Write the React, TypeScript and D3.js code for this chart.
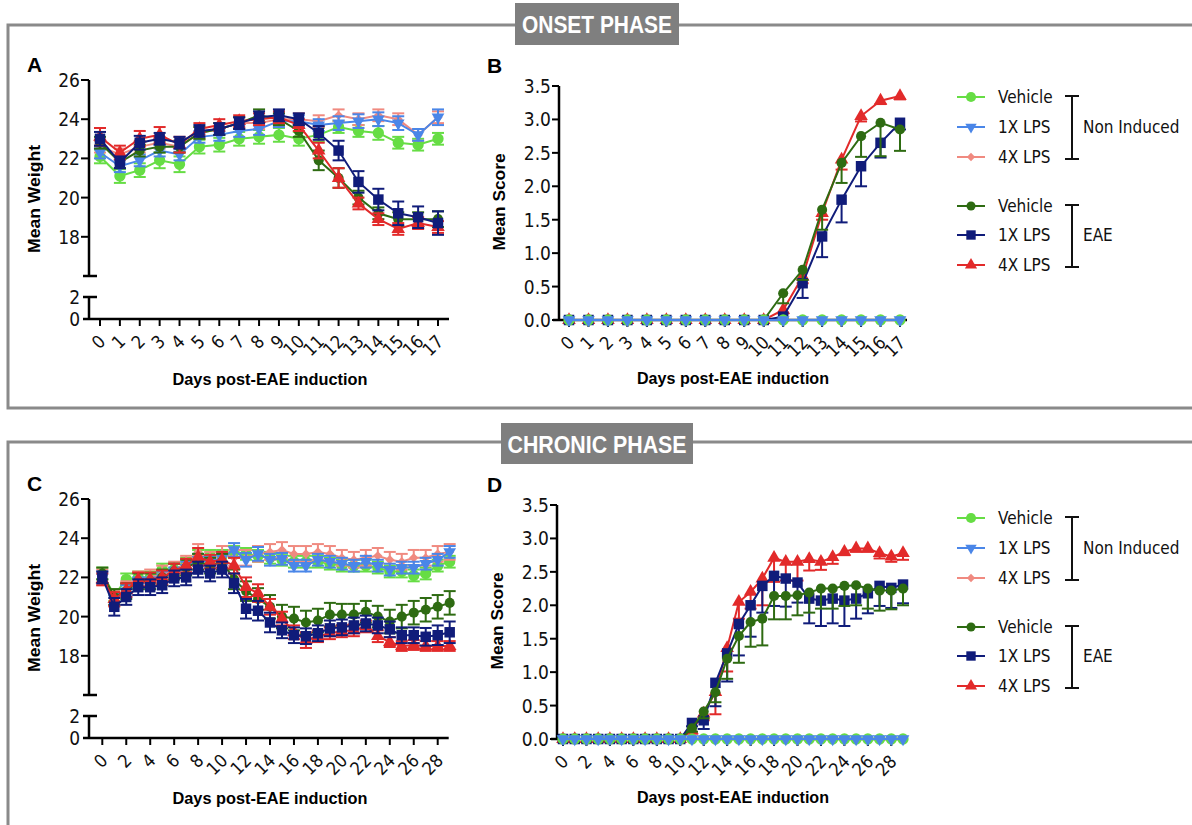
import React from "react";
import * as d3 from "d3";

// ---------- DATA ----------
const onsetDays = [0, 1, 2, 3, 4, 5, 6, 7, 8, 9, 10, 11, 12, 13, 14, 15, 16, 17];
const chronicDays = [0, 1, 2, 3, 4, 5, 6, 7, 8, 9, 10, 11, 12, 13, 14, 15, 16, 17, 18, 19, 20, 21, 22, 23, 24, 25, 26, 27, 28, 29];
const onsetTickLabels = [0, 1, 2, 3, 4, 5, 6, 7, 8, 9, 10, 11, 12, 13, 14, 15, 16, 17];
const chronicTickLabels = [0, 2, 4, 6, 8, 10, 12, 14, 16, 18, 20, 22, 24, 26, 28];
const weightTicks = [18, 20, 22, 24, 26];
const weightBreakTicks = [0, 2];
const scoreTicks = [0, 0.5, 1, 1.5, 2, 2.5, 3, 3.5];
const groupLabels = ["Vehicle", "1X LPS", "4X LPS"];
const cohortLabels = ["Non Induced", "EAE"];
const phaseTitles = ["ONSET PHASE", "CHRONIC PHASE"];
const panelLetters = ["A", "B", "C", "D"];

// Panel A: onset weight
const onsetNIVehW = [22.1, 21.1, 21.4, 21.9, 21.7, 22.6, 22.7, 23.0, 23.1, 23.2, 23.0, 23.2, 23.6, 23.4, 23.3, 22.8, 22.7, 23.0];
const onsetNIVehWErr = [0.35, 0.35, 0.35, 0.4, 0.4, 0.35, 0.35, 0.35, 0.35, 0.35, 0.35, 0.35, 0.3, 0.3, 0.35, 0.3, 0.3, 0.3];
const onsetNI1xW = [22.3, 21.6, 21.9, 22.4, 22.2, 23.1, 23.2, 23.4, 23.5, 23.9, 23.9, 23.7, 23.8, 23.9, 24.0, 23.8, 23.2, 24.1];
const onsetNI1xWErr = [0.3, 0.3, 0.3, 0.3, 0.3, 0.3, 0.3, 0.3, 0.3, 0.3, 0.3, 0.3, 0.35, 0.35, 0.35, 0.35, 0.3, 0.4];
const onsetNI4xW = [22.6, 22.2, 22.6, 22.8, 22.6, 23.3, 23.5, 23.8, 23.8, 24.0, 24.0, 23.9, 24.2, 24.0, 24.2, 24.0, 23.2, 24.1];
const onsetNI4xWErr = [0.3, 0.3, 0.3, 0.3, 0.3, 0.3, 0.3, 0.3, 0.3, 0.3, 0.3, 0.3, 0.3, 0.3, 0.3, 0.3, 0.3, 0.3];
const onsetEAEVehW = [22.8, 21.8, 22.4, 22.6, 22.6, 23.3, 23.5, 23.8, 24.2, 24.0, 23.4, 21.9, 21.0, 20.0, 19.2, 18.9, 18.9, 18.9];
const onsetEAEVehWErr = [0.3, 0.3, 0.3, 0.3, 0.3, 0.3, 0.3, 0.3, 0.3, 0.3, 0.3, 0.5, 0.5, 0.35, 0.3, 0.35, 0.35, 0.4];
const onsetEAE1xW = [23.0, 21.8, 22.8, 23.0, 22.8, 23.4, 23.5, 23.8, 24.1, 24.2, 24.0, 23.3, 22.4, 20.8, 19.9, 19.2, 19.0, 18.7];
const onsetEAE1xWErr = [0.35, 0.3, 0.35, 0.3, 0.3, 0.3, 0.3, 0.3, 0.3, 0.3, 0.3, 0.35, 0.5, 0.55, 0.55, 0.6, 0.55, 0.6];
const onsetEAE4xW = [23.1, 22.3, 23.0, 23.2, 22.7, 23.5, 23.7, 23.9, 24.0, 24.1, 23.7, 22.4, 21.0, 19.7, 18.9, 18.4, 18.7, 18.5];
const onsetEAE4xWErr = [0.45, 0.35, 0.4, 0.4, 0.4, 0.3, 0.3, 0.3, 0.3, 0.3, 0.3, 0.4, 0.5, 0.3, 0.3, 0.3, 0.3, 0.3];

// Panel B: onset score
const onsetNIVehS = [0, 0, 0, 0, 0, 0, 0, 0, 0, 0, 0, 0, 0, 0, 0, 0, 0, 0];
const onsetNI1xS = [0, 0, 0, 0, 0, 0, 0, 0, 0, 0, 0, 0, 0, 0, 0, 0, 0, 0];
const onsetNI4xS = [0, 0, 0, 0, 0, 0, 0, 0, 0, 0, 0, 0, 0, 0, 0, 0, 0, 0];
const onsetNISErr = [0, 0, 0, 0, 0, 0, 0, 0, 0, 0, 0, 0, 0, 0, 0, 0, 0, 0];
const onsetEAEVehS = [0, 0, 0, 0, 0, 0, 0, 0, 0, 0, 0, 0.4, 0.75, 1.65, 2.35, 2.75, 2.95, 2.85];
const onsetEAEVehSErr = [0, 0, 0, 0, 0, 0, 0, 0, 0, 0, 0, 0.15, 0.15, 0.3, 0.3, 0.31, 0.5, 0.32];
const onsetEAE1xS = [0, 0, 0, 0, 0, 0, 0, 0, 0, 0, 0, 0.05, 0.55, 1.25, 1.8, 2.3, 2.65, 2.95];
const onsetEAE1xSErr = [0, 0, 0, 0, 0, 0, 0, 0, 0, 0, 0, 0.05, 0.22, 0.31, 0.34, 0.3, 0.22, 0.1];
const onsetEAE4xS = [0, 0, 0, 0, 0, 0, 0, 0, 0, 0, 0, 0.15, 0.65, 1.6, 2.4, 3.05, 3.28, 3.35];
const onsetEAE4xSErr = [0, 0, 0, 0, 0, 0, 0, 0, 0, 0, 0, 0.05, 0.1, 0.1, 0.15, 0.08, 0.05, 0.05];

// Panel C: chronic weight
const chronicNIVehW = [22.2, 21.1, 21.9, 22.0, 22.0, 22.4, 22.4, 22.7, 23.1, 23.1, 23.1, 23.3, 23.2, 23.1, 23.0, 22.9, 22.8, 22.8, 22.8, 22.7, 22.6, 22.6, 22.6, 22.5, 22.3, 22.3, 22.1, 22.2, 22.6, 22.8];
const chronicNIVehWErr = [0.3, 0.3, 0.3, 0.3, 0.3, 0.3, 0.3, 0.3, 0.3, 0.3, 0.3, 0.3, 0.3, 0.3, 0.3, 0.3, 0.3, 0.3, 0.3, 0.3, 0.3, 0.3, 0.3, 0.3, 0.3, 0.3, 0.3, 0.3, 0.3, 0.3];
const chronicNI1xW = [22.0, 20.9, 21.3, 21.7, 21.7, 22.0, 22.2, 22.5, 22.9, 22.8, 23.0, 23.4, 22.9, 23.2, 22.9, 22.95, 22.6, 22.6, 22.9, 22.8, 22.7, 22.6, 22.8, 22.6, 22.4, 22.5, 22.5, 22.7, 22.9, 23.3];
const chronicNI1xWErr = [0.3, 0.3, 0.3, 0.3, 0.3, 0.3, 0.3, 0.3, 0.3, 0.3, 0.3, 0.35, 0.35, 0.35, 0.3, 0.3, 0.3, 0.3, 0.3, 0.3, 0.3, 0.3, 0.3, 0.3, 0.3, 0.3, 0.3, 0.3, 0.3, 0.3];
const chronicNI4xW = [22.0, 20.9, 21.4, 21.9, 22.0, 22.2, 22.4, 22.7, 23.3, 22.9, 23.2, 23.0, 23.0, 23.2, 23.3, 23.4, 23.2, 23.2, 23.3, 23.2, 23.0, 22.9, 23.0, 23.1, 22.9, 22.8, 23.0, 23.0, 23.2, 23.3];
const chronicNI4xWErr = [0.4, 0.4, 0.4, 0.4, 0.4, 0.4, 0.4, 0.4, 0.4, 0.4, 0.4, 0.4, 0.4, 0.4, 0.4, 0.4, 0.4, 0.4, 0.4, 0.4, 0.4, 0.4, 0.4, 0.4, 0.4, 0.4, 0.4, 0.4, 0.4, 0.4];
const chronicEAEVehW = [22.2, 21.0, 21.3, 21.8, 21.8, 22.0, 22.3, 22.5, 22.8, 22.6, 22.8, 21.9, 21.3, 20.9, 20.5, 20.0, 19.9, 19.7, 19.8, 20.1, 20.1, 20.1, 20.25, 20.0, 19.75, 20.0, 20.2, 20.35, 20.5, 20.7];
const chronicEAEVehWErr = [0.3, 0.4, 0.4, 0.4, 0.4, 0.4, 0.4, 0.4, 0.4, 0.4, 0.4, 0.5, 0.5, 0.55, 0.6, 0.6, 0.6, 0.6, 0.6, 0.6, 0.55, 0.55, 0.55, 0.55, 0.6, 0.6, 0.6, 0.6, 0.6, 0.6];
const chronicEAE1xW = [22.0, 20.5, 21.0, 21.5, 21.5, 21.6, 21.95, 22.0, 22.4, 22.2, 22.4, 21.7, 20.4, 20.3, 19.7, 19.3, 19.05, 19.0, 19.15, 19.4, 19.45, 19.55, 19.65, 19.55, 19.35, 19.05, 19.05, 18.97, 19.05, 19.2];
const chronicEAE1xWErr = [0.3, 0.45, 0.4, 0.4, 0.4, 0.4, 0.4, 0.4, 0.4, 0.4, 0.4, 0.5, 0.5, 0.5, 0.5, 0.4, 0.4, 0.4, 0.4, 0.4, 0.4, 0.4, 0.4, 0.4, 0.4, 0.4, 0.4, 0.45, 0.5, 0.55];
const chronicEAE4xW = [21.9, 20.9, 21.35, 21.9, 21.9, 22.0, 22.35, 22.6, 23.05, 22.8, 22.9, 22.6, 21.5, 21.2, 20.5, 19.9, 19.2, 18.8, 19.0, 19.15, 19.25, 19.3, 19.5, 19.0, 18.7, 18.5, 18.55, 18.5, 18.5, 18.5];
const chronicEAE4xWErr = [0.3, 0.35, 0.35, 0.35, 0.35, 0.35, 0.35, 0.35, 0.45, 0.35, 0.4, 0.4, 0.5, 0.45, 0.4, 0.35, 0.35, 0.4, 0.3, 0.3, 0.3, 0.3, 0.3, 0.3, 0.25, 0.25, 0.25, 0.25, 0.25, 0.25];

// Panel D: chronic score
const chronicNIVehS = [0, 0, 0, 0, 0, 0, 0, 0, 0, 0, 0, 0, 0, 0, 0, 0, 0, 0, 0, 0, 0, 0, 0, 0, 0, 0, 0, 0, 0, 0];
const chronicNI1xS = [0, 0, 0, 0, 0, 0, 0, 0, 0, 0, 0, 0, 0, 0, 0, 0, 0, 0, 0, 0, 0, 0, 0, 0, 0, 0, 0, 0, 0, 0];
const chronicNI4xS = [0, 0, 0, 0, 0, 0, 0, 0, 0, 0, 0, 0, 0, 0, 0, 0, 0, 0, 0, 0, 0, 0, 0, 0, 0, 0, 0, 0, 0, 0];
const chronicNISErr = [0, 0, 0, 0, 0, 0, 0, 0, 0, 0, 0, 0, 0, 0, 0, 0, 0, 0, 0, 0, 0, 0, 0, 0, 0, 0, 0, 0, 0, 0];
const chronicEAEVehS = [0, 0, 0, 0, 0, 0, 0, 0, 0, 0, 0, 0.16, 0.41, 0.7, 1.2, 1.54, 1.75, 1.8, 2.14, 2.14, 2.15, 2.19, 2.25, 2.25, 2.29, 2.3, 2.25, 2.22, 2.22, 2.25];
const chronicEAEVehSErr = [0, 0, 0, 0, 0, 0, 0, 0, 0, 0, 0, 0.05, 0.1, 0.15, 0.3, 0.4, 0.37, 0.4, 0.35, 0.35, 0.3, 0.3, 0.3, 0.3, 0.3, 0.3, 0.3, 0.3, 0.28, 0.25];
const chronicEAE1xS = [0, 0, 0, 0, 0, 0, 0, 0, 0, 0, 0, 0.24, 0.28, 0.84, 1.28, 1.72, 2.0, 2.29, 2.44, 2.4, 2.34, 2.1, 2.07, 2.1, 2.07, 2.1, 2.18, 2.29, 2.26, 2.31];
const chronicEAE1xSErr = [0, 0, 0, 0, 0, 0, 0, 0, 0, 0, 0, 0.05, 0.13, 0.35, 0.42, 0.47, 0.47, 0.4, 0.45, 0.42, 0.3, 0.37, 0.38, 0.37, 0.38, 0.3, 0.3, 0.3, 0.3, 0.28];
const chronicEAE4xS = [0, 0, 0, 0, 0, 0, 0, 0, 0, 0, 0, 0.13, 0.38, 0.7, 1.36, 2.05, 2.2, 2.4, 2.71, 2.65, 2.65, 2.69, 2.65, 2.72, 2.8, 2.85, 2.85, 2.78, 2.73, 2.78];
const chronicEAE4xSErr = [0, 0, 0, 0, 0, 0, 0, 0, 0, 0, 0, 0.05, 0.1, 0.33, 0.35, 0.25, 0.25, 0.4, 0.36, 0.28, 0.28, 0.17, 0.12, 0.1, 0.05, 0.05, 0.05, 0.08, 0.08, 0.1];

// ---------- STYLE ----------
type Style = { color: string; shape: string; area: number };
const ST: Record<string, Style> = {
  niVeh: { color: "#66dd44", shape: "circle", area: 100 },
  ni1x: { color: "#4a86e8", shape: "triDown", area: 70 },
  ni4x: { color: "#f08a80", shape: "diamond", area: 55 },
  eaeVeh: { color: "#2e6b12", shape: "circle", area: 80 },
  eae1x: { color: "#101c7a", shape: "square", area: 110 },
  eae4x: { color: "#e22a2a", shape: "triUp", area: 80 },
};
const legendOrder = [["niVeh", "ni1x", "ni4x"], ["eaeVeh", "eae1x", "eae4x"]];

const FONT = "'Liberation Sans Narrow','DejaVu Sans Condensed','Arial Narrow',sans-serif";
const FONT_B = "'Liberation Sans','DejaVu Sans',Arial,sans-serif";
const FRAME = "#8a8a8a";

function Marker({ s, cx, cy }: { s: Style; cx: number; cy: number }) {
  const type =
    s.shape === "circle" ? d3.symbolCircle :
    s.shape === "square" ? d3.symbolSquare :
    s.shape === "diamond" ? d3.symbolDiamond2 : d3.symbolTriangle;
  const d = d3.symbol().type(type).size(s.area)() as string;
  const rot = s.shape === "triDown" ? " rotate(180)" : "";
  return <path d={d} transform={`translate(${cx},${cy})${rot}`} fill={s.color} />;
}

function Series({ days, values, errs, s, x, y, mode, cap }: any) {
  const pts: [number, number][] = values.map((v: number, i: number) => [x(days[i]), y(v)]);
  const line = d3.line()(pts) as string;
  return (
    <g>
      {errs.map((e: number, i: number) => {
        if (!e) return null;
        const cx = x(days[i]);
        const yTop = mode === "both" ? y(values[i] + e) : y(values[i]);
        const yBot = y(values[i] - e);
        return (
          <g key={i} stroke={s.color} strokeWidth={2}>
            <line x1={cx} x2={cx} y1={yTop} y2={yBot} />
            {mode === "both" && <line x1={cx - cap} x2={cx + cap} y1={yTop} y2={yTop} />}
            <line x1={cx - cap} x2={cx + cap} y1={yBot} y2={yBot} />
          </g>
        );
      })}
      <path d={line} fill="none" stroke={s.color} strokeWidth={2} />
      {pts.map((p, i) => <Marker key={i} s={s} cx={p[0]} cy={p[1]} />)}
    </g>
  );
}

function XAxis({ x, y0, x0, x1, ticks }: any) {
  return (
    <g>
      <line x1={x0} x2={x1} y1={y0} y2={y0} stroke="#000" strokeWidth={2.5} />
      {ticks.map((t: number) => (
        <g key={t}>
          <line x1={x(t)} x2={x(t)} y1={y0} y2={y0 + 7} stroke="#000" strokeWidth={2} />
          <text transform={`translate(${x(t) + 2},${y0 + 19}) rotate(-45)`} textAnchor="end"
            dominantBaseline="central" fontFamily={FONT} fontSize={18} fill="#111">{t}</text>
        </g>
      ))}
    </g>
  );
}

function WeightPanel({ top, days, series, tickLabels, xRange, letter }: any) {
  const axX = 89;
  const yTop = d3.scaleLinear().domain([16, 26]).range([top + 196, top]);
  const yBot = d3.scaleLinear().domain([0, 2]).range([top + 239, top + 217]);
  const x = d3.scaleLinear().domain([0, tickLabels[tickLabels.length - 1]]).range(xRange);
  const cap = 6;
  return (
    <g>
      <text x={27} y={top - 8} fontFamily={FONT_B} fontWeight="bold" fontSize={21}>{letter}</text>
      {/* y axis upper segment */}
      <line x1={axX} x2={axX} y1={top} y2={top + 196} stroke="#000" strokeWidth={2.5} />
      <line x1={axX - 6} x2={axX + 8} y1={top + 196} y2={top + 196} stroke="#000" strokeWidth={2.5} />
      {weightTicks.map((t) => (
        <g key={t}>
          <line x1={axX - 8} x2={axX} y1={yTop(t)} y2={yTop(t)} stroke="#000" strokeWidth={2} />
          <text x={axX - 9} y={yTop(t)} textAnchor="end" dominantBaseline="central" fontFamily={FONT} fontSize={19} fill="#111">{t}</text>
        </g>
      ))}
      {/* lower segment */}
      <line x1={axX} x2={axX} y1={yBot(2)} y2={yBot(0)} stroke="#000" strokeWidth={2.5} />
      <line x1={axX - 6} x2={axX + 8} y1={yBot(2)} y2={yBot(2)} stroke="#000" strokeWidth={2.5} />
      {weightBreakTicks.map((t) => (
        <text key={t} x={axX - 9} y={yBot(t)} textAnchor="end" dominantBaseline="central" fontFamily={FONT} fontSize={19} fill="#111">{t}</text>
      ))}
      <XAxis x={x} y0={yBot(0)} x0={axX - 6} x1={xRange[1] + 11} ticks={tickLabels} />
      <text transform={`translate(40,${top + 119}) rotate(-90)`} textAnchor="middle" fontFamily={FONT_B}
        fontWeight="bold" fontSize={17} textLength={108} lengthAdjust="spacingAndGlyphs">Mean Weight</text>
      <text x={270} y={top + 305} textAnchor="middle" fontFamily={FONT_B} fontWeight="bold" fontSize={17}
        textLength={195} lengthAdjust="spacingAndGlyphs">Days post-EAE induction</text>
      {series.map((sr: any, i: number) => (
        <Series key={i} days={days} values={sr.v} errs={sr.e} s={ST[sr.k]} x={x} y={yTop} mode="both" cap={cap} />
      ))}
    </g>
  );
}

function ScorePanel({ top, axX, days, series, tickLabels, xRange, letter }: any) {
  const y = d3.scaleLinear().domain([0, 3.5]).range([top + 234, top]);
  const x = d3.scaleLinear().domain([0, tickLabels[tickLabels.length - 1]]).range(xRange);
  const fmt = d3.format(".1f");
  return (
    <g>
      <text x={487} y={top - 13} fontFamily={FONT_B} fontWeight="bold" fontSize={21}>{letter}</text>
      <line x1={axX} x2={axX} y1={top} y2={y(0)} stroke="#000" strokeWidth={2.5} />
      {scoreTicks.map((t) => (
        <g key={t}>
          <line x1={axX - 7} x2={axX} y1={y(t)} y2={y(t)} stroke="#000" strokeWidth={2} />
          <text x={axX - 8} y={y(t)} textAnchor="end" dominantBaseline="central" fontFamily={FONT} fontSize={19} fill="#111">{fmt(t)}</text>
        </g>
      ))}
      <XAxis x={x} y0={y(0)} x0={axX - 6} x1={xRange[1] + 7} ticks={tickLabels} />
      <text transform={`translate(${axX - 54},${top + 116}) rotate(-90)`} textAnchor="middle" fontFamily={FONT_B}
        fontWeight="bold" fontSize={17} textLength={97} lengthAdjust="spacingAndGlyphs">Mean Score</text>
      <text x={733} y={top + 298} textAnchor="middle" fontFamily={FONT_B} fontWeight="bold" fontSize={17}
        textLength={192} lengthAdjust="spacingAndGlyphs">Days post-EAE induction</text>
      {series.map((sr: any, i: number) => (
        <Series key={i} days={days} values={sr.v} errs={sr.e} s={ST[sr.k]} x={x} y={y} mode="down" cap={6} />
      ))}
    </g>
  );
}

function Legend({ top }: { top: number }) {
  const rowsY = [[0, 30, 60], [109, 138, 168]];
  return (
    <g>
      {legendOrder.map((grp, gi) => (
        <g key={gi}>
          {grp.map((k, i) => {
            const yy = top + rowsY[gi][i];
            return (
              <g key={k}>
                <line x1={957} x2={985} y1={yy} y2={yy} stroke={ST[k].color} strokeWidth={2} />
                <Marker s={{ ...ST[k], area: ST[k].area * 0.8 }} cx={971} cy={yy} />
                <text x={998} y={yy} dominantBaseline="central" fontFamily={FONT} fontSize={17} fill="#111">{groupLabels[i]}</text>
              </g>
            );
          })}
          <g stroke="#111" strokeWidth={2}>
            <line x1={1072} x2={1072} y1={top + rowsY[gi][0] - 1} y2={top + rowsY[gi][2] + 2} />
            <line x1={1065} x2={1079} y1={top + rowsY[gi][0] - 1} y2={top + rowsY[gi][0] - 1} />
            <line x1={1065} x2={1079} y1={top + rowsY[gi][2] + 2} y2={top + rowsY[gi][2] + 2} />
          </g>
          <text x={1083} y={top + rowsY[gi][1]} dominantBaseline="central" fontFamily={FONT} fontSize={17} fill="#111">{cohortLabels[gi]}</text>
        </g>
      ))}
    </g>
  );
}

function Header({ cx, y, w, h, tw, label }: any) {
  return (
    <g>
      <rect x={cx - w / 2} y={y} width={w} height={h} fill="#7f7f7f" />
      <text x={cx} y={y + h / 2 + 1} textAnchor="middle" dominantBaseline="central" fill="#fff"
        fontFamily={FONT_B} fontWeight="bold" fontSize={23} textLength={tw} lengthAdjust="spacingAndGlyphs">{label}</text>
    </g>
  );
}

export default function App() {
  const weightOnset = [
    { k: "niVeh", v: onsetNIVehW, e: onsetNIVehWErr },
    { k: "ni4x", v: onsetNI4xW, e: onsetNI4xWErr },
    { k: "ni1x", v: onsetNI1xW, e: onsetNI1xWErr },
    { k: "eaeVeh", v: onsetEAEVehW, e: onsetEAEVehWErr },
    { k: "eae4x", v: onsetEAE4xW, e: onsetEAE4xWErr },
    { k: "eae1x", v: onsetEAE1xW, e: onsetEAE1xWErr },
  ];
  const scoreOnset = [
    { k: "eae4x", v: onsetEAE4xS, e: onsetEAE4xSErr },
    { k: "eae1x", v: onsetEAE1xS, e: onsetEAE1xSErr },
    { k: "eaeVeh", v: onsetEAEVehS, e: onsetEAEVehSErr },
    { k: "ni4x", v: onsetNI4xS, e: onsetNISErr },
    { k: "niVeh", v: onsetNIVehS, e: onsetNISErr },
    { k: "ni1x", v: onsetNI1xS, e: onsetNISErr },
  ];
  const weightChronic = [
    { k: "niVeh", v: chronicNIVehW, e: chronicNIVehWErr },
    { k: "ni4x", v: chronicNI4xW, e: chronicNI4xWErr },
    { k: "ni1x", v: chronicNI1xW, e: chronicNI1xWErr },
    { k: "eaeVeh", v: chronicEAEVehW, e: chronicEAEVehWErr },
    { k: "eae4x", v: chronicEAE4xW, e: chronicEAE4xWErr },
    { k: "eae1x", v: chronicEAE1xW, e: chronicEAE1xWErr },
  ];
  const scoreChronic = [
    { k: "eae4x", v: chronicEAE4xS, e: chronicEAE4xSErr },
    { k: "eae1x", v: chronicEAE1xS, e: chronicEAE1xSErr },
    { k: "eaeVeh", v: chronicEAEVehS, e: chronicEAEVehSErr },
    { k: "ni4x", v: chronicNI4xS, e: chronicNISErr },
    { k: "niVeh", v: chronicNIVehS, e: chronicNISErr },
    { k: "ni1x", v: chronicNI1xS, e: chronicNISErr },
  ];
  return (
    <svg width={1192} height={825} style={{ position: "absolute", left: 0, top: 0, background: "#fff" }}>
      <rect width={1192} height={825} fill="#fff" />
      {/* frames */}
      <path d="M1200,25 H8 V408 H1200" fill="none" stroke={FRAME} strokeWidth={3} />
      <path d="M1200,442 H8 V830" fill="none" stroke={FRAME} strokeWidth={3} />
      <Header cx={597} y={3} w={164} h={42} tw={150} label={phaseTitles[0]} />
      <Header cx={597} y={423} w={192} h={41} tw={179} label={phaseTitles[1]} />

      <WeightPanel top={80} days={onsetDays} series={weightOnset} tickLabels={onsetTickLabels} xRange={[100, 438]} letter={panelLetters[0]} />
      <ScorePanel top={86} axX={559} days={onsetDays} series={scoreOnset} tickLabels={onsetTickLabels} xRange={[569, 900]} letter={panelLetters[1]} />
      <WeightPanel top={499} days={chronicDays} series={weightChronic} tickLabels={chronicTickLabels} xRange={[102.3, 437.7]} letter={panelLetters[2]} />
      <ScorePanel top={505} axX={557} days={chronicDays} series={scoreChronic} tickLabels={chronicTickLabels} xRange={[563, 891.3]} letter={panelLetters[3]} />

      <Legend top={97} />
      <Legend top={518} />
    </svg>
  );
}
